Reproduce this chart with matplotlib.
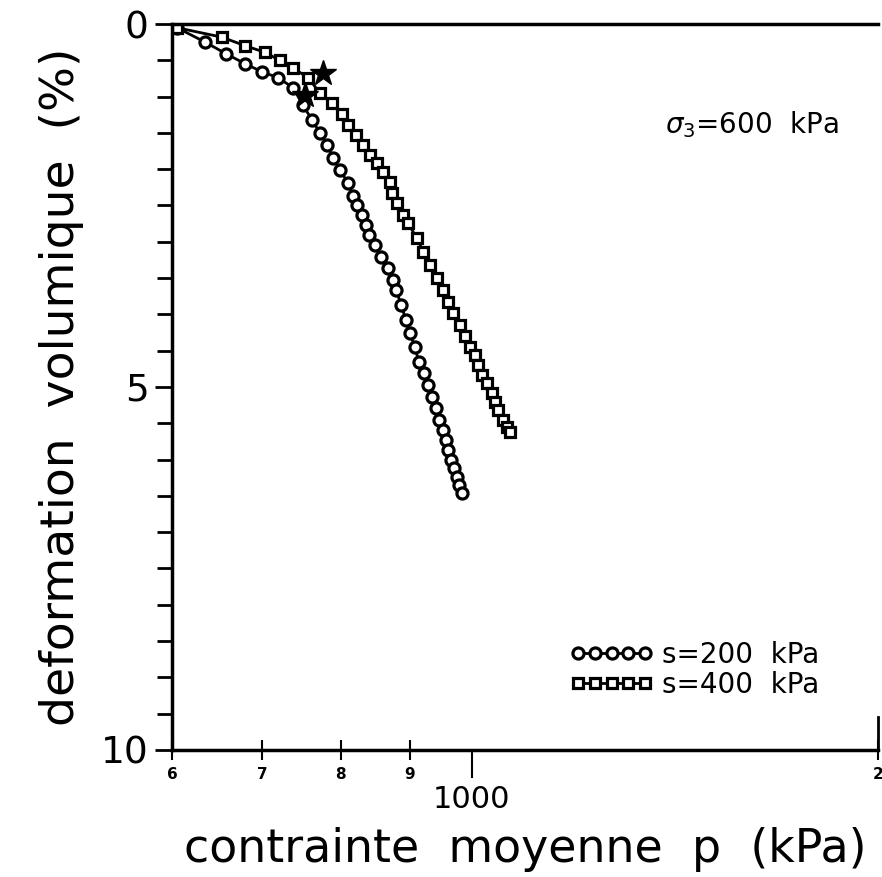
import numpy as np
import matplotlib
matplotlib.use('Agg')
import matplotlib.pyplot as plt
from matplotlib.ticker import FixedLocator, FixedFormatter, NullFormatter

# s = 200 kPa (circles)
p_200 = [605, 635, 658, 680, 700, 719, 738, 750, 762, 772, 782, 790, 799, 810,
         817, 823, 830, 835, 840, 848, 857, 867, 875, 879, 887, 894, 900, 908,
         914, 922, 929, 935, 941, 946, 953, 957, 961, 966, 971, 976, 979, 984]
ev_200 = [0.05, 0.25, 0.41, 0.55, 0.66, 0.74, 0.88, 1.12, 1.32, 1.50, 1.67, 1.85,
          2.01, 2.19, 2.37, 2.49, 2.63, 2.77, 2.91, 3.04, 3.21, 3.36, 3.53, 3.66,
          3.87, 4.08, 4.26, 4.45, 4.66, 4.81, 4.97, 5.14, 5.29, 5.45, 5.59, 5.73,
          5.87, 6.01, 6.12, 6.24, 6.35, 6.46]

# s = 400 kPa (squares)
p_400 = [605, 653, 680, 703, 721, 738, 757, 772, 788, 802, 810, 821, 831, 841,
         851, 860, 870, 873, 881, 890, 897, 911, 921, 932, 943, 953, 961, 969,
         981, 989, 997, 1006, 1011, 1018, 1027, 1036, 1041, 1046, 1055, 1062, 1068]
ev_400 = [0.05, 0.18, 0.30, 0.39, 0.50, 0.61, 0.74, 0.95, 1.09, 1.24, 1.39, 1.53,
          1.67, 1.80, 1.91, 2.04, 2.18, 2.33, 2.47, 2.63, 2.74, 2.95, 3.14, 3.32,
          3.50, 3.66, 3.83, 3.98, 4.15, 4.30, 4.45, 4.56, 4.70, 4.83, 4.94, 5.08,
          5.21, 5.32, 5.45, 5.55, 5.62]

# stars
p_star = [776, 753]
ev_star = [0.67, 0.98]

minor_ticks = [600, 700, 800, 900, 2000]
minor_labels = ['6', '7', '8', '9', '2']

fig = plt.figure(figsize=(8.82, 8.77), dpi=100)
ax = fig.add_axes([0.195, 0.145, 0.8005, 0.8276])

ax.plot(p_200, ev_200, color='black', marker='o', markersize=8, mfc='white',
        mec='black', mew=2.3, linewidth=2, label='s=200  kPa')
ax.plot(p_400, ev_400, color='black', marker='s', markersize=7, mfc='white',
        mec='black', mew=2.3, linewidth=2, label='s=400  kPa')
ax.plot(p_star, ev_star, linestyle='none', marker='*', markersize=19,
        color='black')

ax.set_xscale('log')
ax.set_xlim(600, 2000)
ax.set_ylim(10, 0)

ax.xaxis.set_major_locator(FixedLocator([1000]))
ax.xaxis.set_major_formatter(FixedFormatter(['1000']))
ax.xaxis.set_minor_locator(FixedLocator(minor_ticks))
ax.xaxis.set_minor_formatter(FixedFormatter(minor_labels))
ax.tick_params(axis='x', which='major', direction='out', length=20, width=1.5,
               labelsize=22, pad=5)
ax.tick_params(axis='x', which='minor', direction='inout', length=14, width=1.5,
               labelsize=11, pad=5)
for lab in ax.xaxis.get_minorticklabels():
    lab.set_fontweight('bold')

ax.set_yticks([0, 5, 10])
ax.set_yticks(np.arange(0, 10.01, 0.5), minor=True)
ax.yaxis.set_minor_formatter(NullFormatter())
ax.tick_params(axis='y', which='major', direction='out', length=12, width=2,
               labelsize=27, pad=5)
ax.tick_params(axis='y', which='minor', direction='out', length=11, width=2)

for s in ['left', 'top', 'bottom']:
    ax.spines[s].set_linewidth(2.5)
ax.spines['right'].set_linewidth(2)
ax.spines['right'].set_bounds(9.55, 10)

ax.set_xlabel('contrainte  moyenne  p  (kPa)', fontsize=33, labelpad=10)
ax.set_ylabel('deformation  volumique  (%)', fontsize=34, labelpad=12)

ax.text(0.698, 1.39, r'$\sigma_3$=600  kPa', transform=ax.get_yaxis_transform(),
        fontsize=20, va='center', ha='left')

ax.legend(loc='upper left', bbox_to_anchor=(0.548, 0.165), frameon=False,
          numpoints=5, handlelength=3.0, handletextpad=0.3, labelspacing=0.05,
          fontsize=20, borderaxespad=0)

fig.savefig('out.png', dpi=100)
